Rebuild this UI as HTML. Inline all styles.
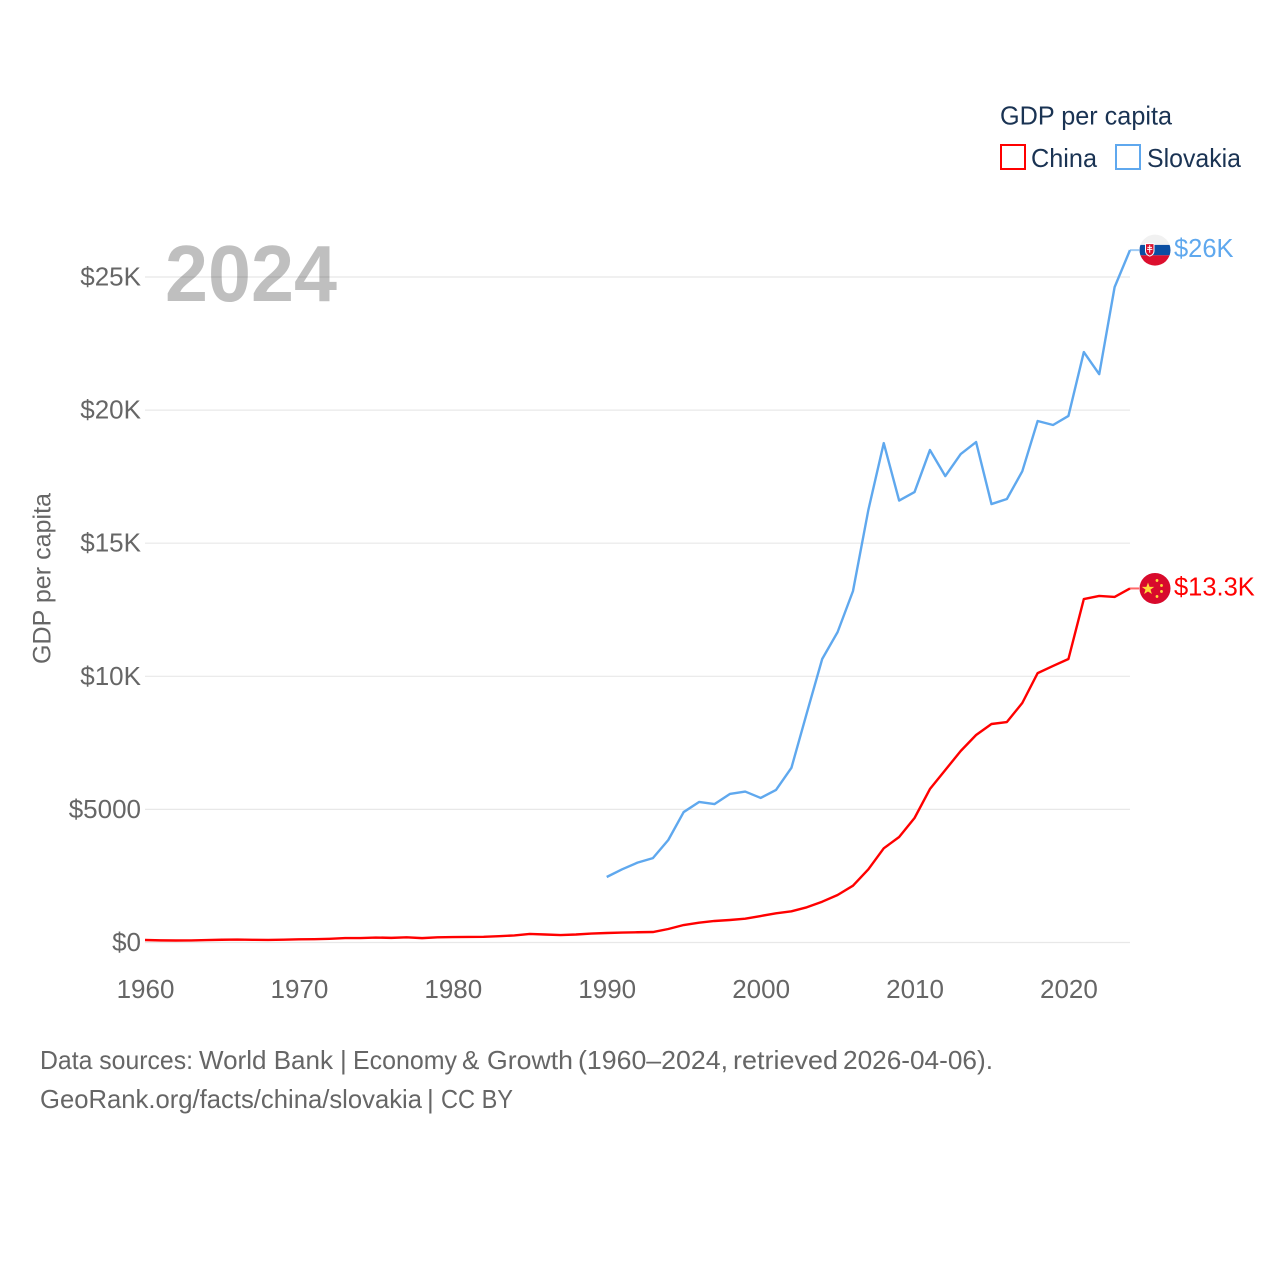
<!DOCTYPE html>
<html>
<head>
<meta charset="utf-8">
<title>GDP per capita: China and Slovakia</title>
<style>
html,body{margin:0;padding:0;background:#fff;width:1280px;height:1280px;overflow:hidden}
svg{display:block;font-family:"Liberation Sans",sans-serif}
</style>
</head>
<body>
<svg id="chart" width="1280" height="1280" viewBox="0 0 1280 1280" xmlns="http://www.w3.org/2000/svg">
<defs>
<clipPath id="flag-clip"><circle cx="0" cy="0" r="15.5"></circle></clipPath>
</defs>
<rect x="0" y="0" width="1280" height="1280" fill="#fff"></rect>
<g id="grid"></g>
<g id="y-axis"></g>
<g id="x-axis"></g>
<text x="165" y="301" font-size="80" font-weight="700" fill="#000" fill-opacity="0.25" textLength="172" lengthAdjust="spacingAndGlyphs">2024</text>
<text transform="translate(50.5,664) rotate(-90)" font-size="25" fill="#666" textLength="171" lengthAdjust="spacingAndGlyphs">GDP per capita</text>
<g id="series"></g>
<g id="flag-slovakia">
<g clip-path="url(#flag-clip)">
<rect x="-16" y="-16" width="32" height="11" fill="#f1f1f1"></rect>
<rect x="-16" y="-5.2" width="32" height="10.4" fill="#0b4ea2"></rect>
<rect x="-16" y="5.2" width="32" height="11" fill="#dc0f2e"></rect>
<path d="M-10,-7 h9.5 v7.5 q0,4.5 -4.75,6 q-4.75,-1.5 -4.75,-6 z" fill="#fff"></path>
<path d="M-9,-6 h7.5 v6.5 q0,3.7 -3.75,5 q-3.75,-1.3 -3.75,-5 z" fill="#dc0f2e"></path>
<path d="M-5.8,-5 h1 v1.8 h1.8 v1 h-1.8 v1 h2.2 v1 h-2.2 v2.8 h-1 v-2.8 h-2.2 v-1 h2.2 v-1 h-1.8 v-1 h1.8 z" fill="#fff"></path>
</g>
</g>
<g id="flag-china">
<g clip-path="url(#flag-clip)">
<rect x="-16" y="-16" width="32" height="32" fill="#d80a2c"></rect>
<polygon points="-7,-6 -5.4,-1.6 -0.8,-1.6 -4.5,1.2 -3.1,5.6 -7,3 -10.9,5.6 -9.5,1.2 -13.2,-1.6 -8.6,-1.6" fill="#ffd83a"></polygon>
<circle cx="2" cy="-8" r="1.4" fill="#ffd83a"></circle>
<circle cx="6.5" cy="-3" r="1.4" fill="#ffd83a"></circle>
<circle cx="6.5" cy="3" r="1.4" fill="#ffd83a"></circle>
<circle cx="2" cy="8" r="1.4" fill="#ffd83a"></circle>
</g>
</g>
<g id="end-labels"></g>
<g>
<text x="1000" y="124.5" font-size="26" fill="#1a3353" textLength="172" lengthAdjust="spacingAndGlyphs">GDP per capita</text>
<g>
<rect x="1001" y="145" width="24" height="24" fill="none" stroke="#ff0000" stroke-width="2"></rect>
<text x="1031" y="167" font-size="26" fill="#1a3353" textLength="66" lengthAdjust="spacingAndGlyphs">China</text>
</g>
<g>
<rect x="1116" y="145" width="24" height="24" fill="none" stroke="#5fa8ee" stroke-width="2"></rect>
<text x="1147" y="167" font-size="26" fill="#1a3353" textLength="94" lengthAdjust="spacingAndGlyphs">Slovakia</text>
</g>
</g>
<text y="1069" font-size="26" fill="#666" lengthAdjust="spacingAndGlyphs"><tspan x="40" textLength="153" lengthAdjust="spacingAndGlyphs">Data sources:</tspan> <tspan x="199" textLength="134" lengthAdjust="spacingAndGlyphs">World Bank</tspan> <tspan x="340">|</tspan> <tspan x="353" textLength="104" lengthAdjust="spacingAndGlyphs">Economy</tspan> <tspan x="462">&amp;</tspan> <tspan x="487" textLength="86" lengthAdjust="spacingAndGlyphs">Growth</tspan> <tspan x="578" textLength="150" lengthAdjust="spacingAndGlyphs">(1960–2024,</tspan> <tspan x="733" textLength="105" lengthAdjust="spacingAndGlyphs">retrieved</tspan> <tspan x="843" textLength="150" lengthAdjust="spacingAndGlyphs">2026-04-06).</tspan></text>
<text y="1108" font-size="26" fill="#666"><tspan x="40" textLength="382" lengthAdjust="spacingAndGlyphs">GeoRank.org/facts/china/slovakia</tspan> <tspan x="427">|</tspan> <tspan x="441" textLength="72" lengthAdjust="spacingAndGlyphs">CC BY</tspan></text>
</svg>
<script>
const yTicks = [0, 5000, 10000, 15000, 20000, 25000];
const xTicks = [1960, 1970, 1980, 1990, 2000, 2010, 2020];
const chinaStartYear = 1960;
const chinaValues = [94, 80, 75, 78, 90, 103, 110, 101, 96, 105, 119, 125, 139, 165, 168, 187, 174, 195, 164, 193, 205, 208, 214, 237, 265, 320, 300, 280, 300, 335, 357, 372, 385, 394, 507, 657, 744, 808, 845, 894, 995, 1097, 1172, 1322, 1533, 1784, 2134, 2750, 3539, 3963, 4677, 5766, 6480, 7194, 7795, 8208, 8283, 8997, 10120, 10390, 10650, 12900, 13020, 12980, 13300];
const slovakiaStartYear = 1990;
const slovakiaValues = [2460, 2750, 3000, 3170, 3850, 4900, 5280, 5200, 5580, 5670, 5430, 5730, 6560, 8620, 10650, 11660, 13200, 16250, 18760, 16600, 16920, 18500, 17520, 18350, 18800, 16470, 16660, 17700, 19590, 19440, 19780, 22180, 21350, 24620, 26010];

const NS = 'http://www.w3.org/2000/svg';
function xScale(year) { return 145 + (year - 1960) * (1130 - 145) / 64; }
function yScale(value) { return 942.5 - value * (942.5 - 277) / 25000; }
function yFormat(v) { return v >= 10000 ? '$' + (v / 1000) + 'K' : '$' + v; }
function endFormat(v) { return '$' + (Math.round(v / 100) / 10) + 'K'; }
function make(tag, parent, attrs) {
  const el = document.createElementNS(NS, tag);
  for (const k in attrs) el.setAttribute(k, attrs[k]);
  parent.appendChild(el);
  return el;
}
const gridG = document.getElementById('grid');
const yG = document.getElementById('y-axis');
const xG = document.getElementById('x-axis');
const seriesG = document.getElementById('series');
const labelG = document.getElementById('end-labels');

yTicks.forEach(function (t) {
  const line = make('line', gridG, { x1: 145, x2: 1130, y1: yScale(t), y2: yScale(t), stroke: '#e8e8e8', 'stroke-width': 1.2 });
  
  
  const label = make('text', yG, { x: 141, y: yScale(t) + 8.5, 'text-anchor': 'end', 'font-size': 26, fill: '#666' });
  
  
  label.textContent = yFormat(t);
});
xTicks.forEach(function (t) {
  const label = make('text', xG, { x: xScale(t) + 0.5, y: 998, 'text-anchor': 'middle', 'font-size': 26, fill: '#666' });
  
  
  label.textContent = t;
});
function drawLine(startYear, values, color, flagId, lineName, connectorName, labelName) {
  const pts = values.map(function (v, i) { return xScale(startYear + i).toFixed(2) + ',' + yScale(v).toFixed(2); });
  const line = make('polyline', seriesG, { points: pts.join(' '), fill: 'none', stroke: color, 'stroke-width': 2.4, 'stroke-linejoin': 'round' });
  
  
  const last = values[values.length - 1];
  const lastYear = startYear + values.length - 1;
  const ly = yScale(last);
  const conn = make('line', seriesG, { x1: xScale(lastYear), x2: 1139, y1: ly, y2: ly, stroke: color, 'stroke-width': 2, 'stroke-opacity': 0.6 });
  
  
  document.getElementById(flagId).setAttribute('transform', 'translate(1155,' + ly.toFixed(2) + ')');
  const label = make('text', labelG, { x: 1174, y: ly + 7, 'font-size': 25.5, fill: color });
  
  
  label.textContent = endFormat(last);
}
drawLine(slovakiaStartYear, slovakiaValues, '#5fa8ee', 'flag-slovakia', 'slovakia-line', 'slovakia-connector', 'slovakia-end-label');
drawLine(chinaStartYear, chinaValues, '#ff0000', 'flag-china', 'china-line', 'china-connector', 'china-end-label');
</script>
</body>
</html>
